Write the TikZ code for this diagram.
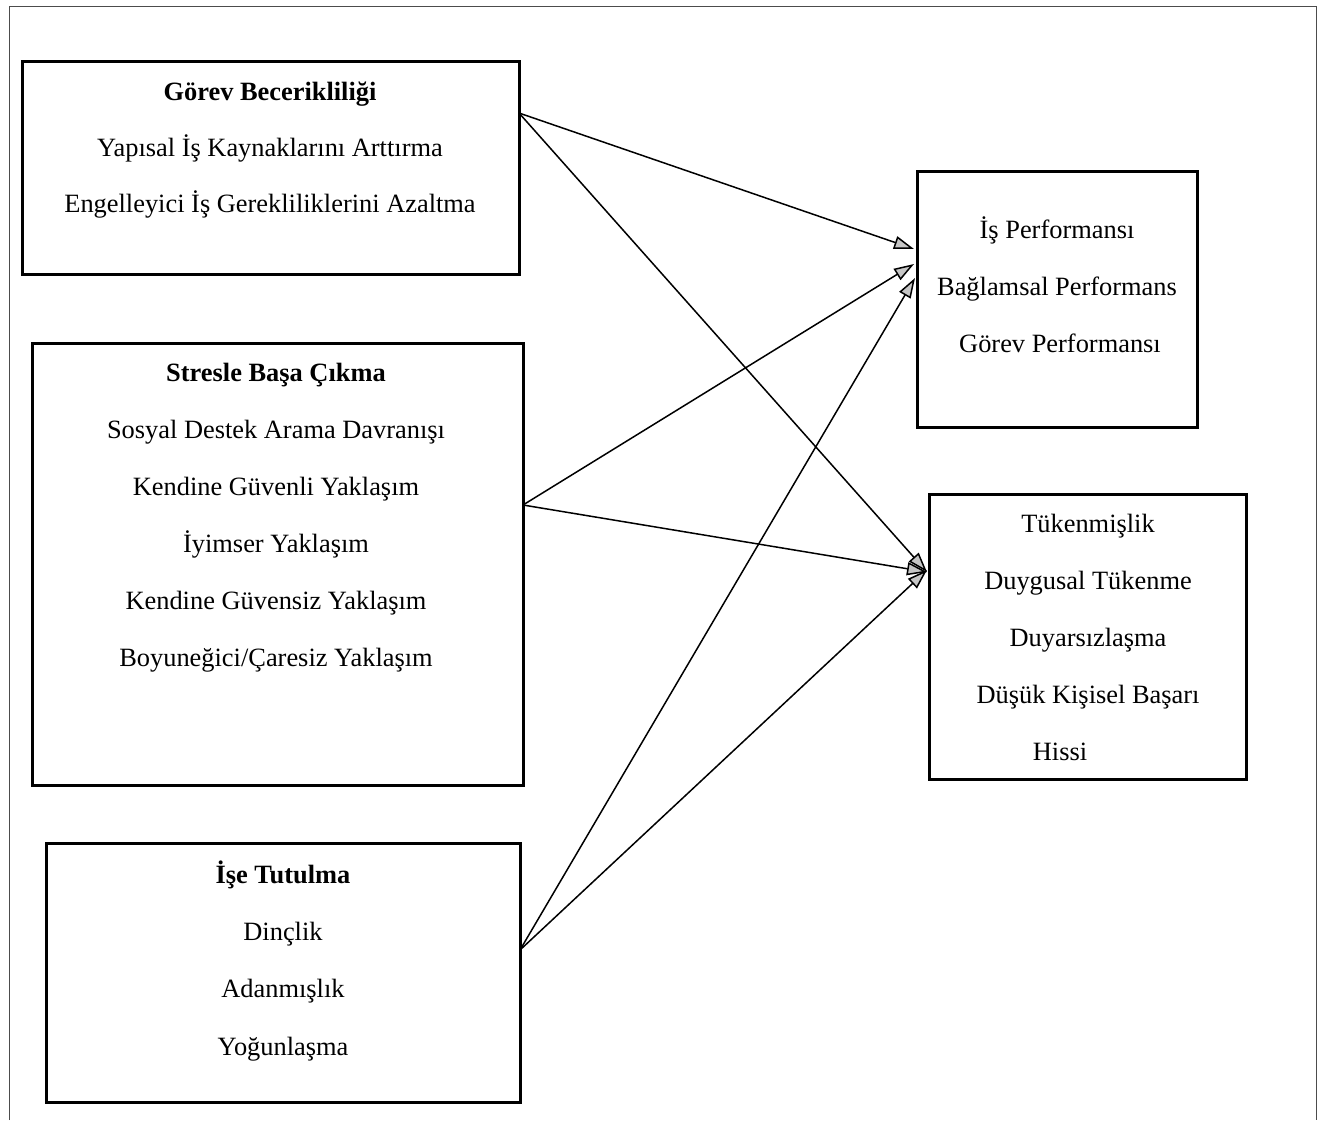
\documentclass[tikz,border=0pt]{standalone}
\usepackage{fontspec}
\setmainfont{Liberation Serif}
\usetikzlibrary{arrows.meta}
\begin{document}
\begin{tikzpicture}[x=0.5pt,y=-0.5pt,
  box/.style={draw=black,line width=1.5pt,inner sep=0pt},
  lbl/.style={inner sep=0pt,anchor=base,yshift=-4.2pt,font=\fontsize{13.2}{15}\selectfont},
  hd/.style={lbl,font=\fontsize{13.2}{15}\selectfont\bfseries},
  link/.style={draw=black,line width=0.75pt,-{Triangle[length=10pt,width=6.5pt,fill=gray!45]}}]
\useasboundingbox (0,0) rectangle (1328,1120);
% outer frame
\draw[line width=0.5pt,black!70] (9,1120) -- (9,6) -- (1316,6) -- (1316,1120);
% boxes
\node[box,minimum width=248.5pt,minimum height=106.5pt] (b1) at (270.5,167.5) {};
\node[box,minimum width=245.5pt,minimum height=221pt] (b2) at (277.5,564) {};
\node[box,minimum width=237pt,minimum height=129.5pt] (b3) at (283,972.5) {};
\node[box,minimum width=140pt,minimum height=128pt] (b4) at (1057,299) {};
\node[box,minimum width=158.5pt,minimum height=142.5pt] (b5) at (1087.5,636.5) {};
% texts box 1
\node[hd] (t11) at (270,92) {Görev Becerikliliği};
\node[lbl] (t12) at (270,148) {Yapısal İş Kaynaklarını Arttırma};
\node[lbl] (t13) at (270,204) {Engelleyici İş Gerekliliklerini Azaltma};
% box 2
\node[hd] (t21) at (276,373) {Stresle Başa Çıkma};
\node[lbl] (t22) at (276,430) {Sosyal Destek Arama Davranışı};
\node[lbl] (t23) at (276,487) {Kendine Güvenli Yaklaşım};
\node[lbl] (t24) at (276,544) {İyimser Yaklaşım};
\node[lbl] (t25) at (276,601) {Kendine Güvensiz Yaklaşım};
\node[lbl] (t26) at (276,658) {Boyuneğici/Çaresiz Yaklaşım};
% box 3
\node[hd] (t31) at (283,875) {İşe Tutulma};
\node[lbl] (t32) at (283,932) {Dinçlik};
\node[lbl] (t33) at (283,989) {Adanmışlık};
\node[lbl] (t34) at (283,1047) {Yoğunlaşma};
% box 4
\node[lbl] (t41) at (1057,230) {İş Performansı};
\node[lbl] (t42) at (1057,287) {Bağlamsal Performans};
\node[lbl] (t43) at (1060,344) {Görev Performansı};
% box 5
\node[lbl] (t51) at (1088,524) {Tükenmişlik};
\node[lbl] (t52) at (1088,581) {Duygusal Tükenme};
\node[lbl] (t53) at (1088,638) {Duyarsızlaşma};
\node[lbl] (t54) at (1088,695) {Düşük Kişisel Başarı};
\node[lbl] (t55) at (1060,752) {Hissi};
% connector points
\coordinate (o1) at (519,113);
\coordinate (o2) at (523,505);
\coordinate (o3) at (520,950);
\coordinate (i41) at (914,249);
\coordinate (i42) at (914,264);
\coordinate (i43) at (915,278);
\coordinate (i51) at (927,572);
\coordinate (i52) at (927,572);
\coordinate (i53) at (927,570);
\draw[link] (o1) -- (i41);
\draw[link] (o1) -- (i51);
\draw[link] (o2) -- (i42);
\draw[link] (o2) -- (i52);
\draw[link] (o3) -- (i43);
\draw[link] (o3) -- (i53);
\end{tikzpicture}
\end{document}
